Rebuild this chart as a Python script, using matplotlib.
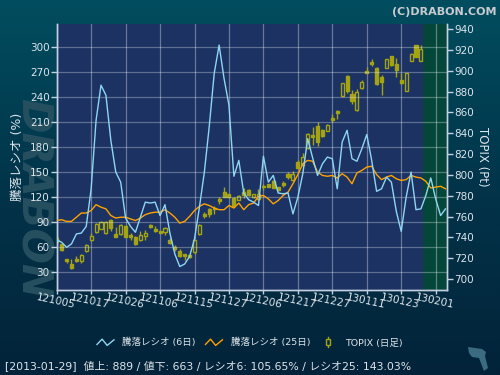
import numpy as np
import matplotlib
matplotlib.use("Agg")
import matplotlib.pyplot as plt
from matplotlib.lines import Line2D
from matplotlib.patches import Rectangle, Polygon
from matplotlib.legend_handler import HandlerBase
from matplotlib.colors import LinearSegmentedColormap

plt.rcParams["font.family"] = ["DejaVu Sans", "Noto Sans CJK JP"]

# ---------------------------------------------------------------------------
# data (one value per trading day, 2012-10-05 .. 2013-02-05)
# ---------------------------------------------------------------------------
tick_labels = ["121005", "121017", "121026", "121106", "121115", "121127",
               "121206", "121217", "121227", "130111", "130123", "130201"]

ratio6 = [69, 66, 60, 64, 76, 77, 85, 130, 212, 254,
          242, 188, 150, 138, 95, 85, 78, 96, 114, 113,
          114, 98, 111, 77, 52, 37, 40, 49, 70, 108,
          150, 205, 268, 302, 262, 230, 145, 164, 125, 117,
          114, 110, 169, 138, 146, 125, 124, 125, 100, 120,
          148, 190, 167, 146, 160, 168, 166, 130, 186, 200,
          166, 163, 178, 195, 164, 127, 130, 144, 138, 103,
          79, 120, 150, 105, 106, 122, 143, 118, 98, 106]

ratio25 = [92, 93, 91, 91, 96, 101, 101, 104, 111, 108,
           106, 98, 95, 96, 96, 94, 92, 95, 99, 101,
           102, 102, 105, 101, 96, 89, 91, 97, 104, 109,
           112, 110, 107, 105, 105, 110, 107, 113, 105, 111,
           113, 121, 122, 118, 112, 116, 122, 126, 136, 147,
           160, 164, 163, 150, 146, 145, 146, 143, 148, 144,
           136, 149, 152, 156, 157, 147, 141, 144, 146, 142,
           140, 141, 146, 144, 143, 139, 131, 132, 133, 130]

topix_open = [739, 733.5, 719, 714, 719, 717.5, 727, 737.5, 745.5, 748.5,
              744, 757, 743, 743, 751, 742, 740.5, 737.5, 741.5, 752,
              748.5, 746, 745.5, 737.5, 731, 727, 724, 723, 726, 743,
              762.5, 767, 768, 776.5, 784, 781.5, 778, 776, 784, 785.5,
              778.5, 776.5, 789.5, 791, 794, 788, 792.5, 800.5, 795, 812,
              809.5, 825.5, 838, 847, 843.5, 842.5, 854.5, 861, 876, 895,
              877.5, 862, 883, 900, 908.5, 903, 894, 903, 914, 906.5,
              891.5, 881, 909.5, 924.5, 909.5]
topix_close = [736, 727.5, 717, 711, 717.5, 723, 732.5, 741, 753, 755,
               755, 749.5, 740.5, 752, 740.5, 740, 733.5, 742, 744.5, 750,
               746.5, 744.5, 749.5, 735, 728.5, 722.5, 722.5, 721, 737.5, 752,
               760.5, 762, 767, 775, 779, 778.5, 770.5, 780, 780.5, 780.5,
               781.5, 781.5, 788, 788.5, 787.5, 785.5, 790, 797.5, 801, 807,
               817, 839, 836.5, 832, 837.5, 848, 853, 859, 888, 881,
               871, 880, 889, 898, 906.5, 887, 889.5, 911, 905, 900.5,
               888, 897.5, 916.5, 913.5, 920.5]
topix_high = [741, 734.5, 719.5, 719, 722, 724.5, 733.5, 744, 753.5, 756,
              756, 757.5, 750, 752.5, 751.5, 744, 741, 746.5, 747, 753,
              751, 746.5, 750, 739, 732.5, 728.5, 724.5, 724, 737.5, 752.5,
              764.5, 768, 770, 778.5, 788.5, 782, 778.5, 781, 787, 786,
              782, 786, 791, 791.5, 795, 788.5, 794, 803, 804, 814,
              821, 840, 846, 851, 844.5, 848.5, 858.5, 862, 888.5, 896,
              881.5, 882, 891, 904, 911, 903.5, 896, 911.5, 914.5, 912,
              898, 898, 917, 925, 924.5]
topix_low = [734, 726.5, 715, 710, 716.5, 715.5, 726, 737, 744, 748,
             743, 746, 740, 742.5, 740, 737.5, 733, 737, 737.5, 749.5,
             745.5, 744, 742, 734, 727, 721.5, 718, 720, 724.5, 742.5,
             759, 760, 762, 772.5, 778.5, 778, 770, 775.5, 777.5, 780,
             778, 776, 785.5, 788, 787, 785, 788.5, 796.5, 794.5, 806,
             808.5, 824.5, 828.5, 827.5, 836, 842, 851, 853.5, 875.5, 879,
             868.5, 861.5, 882, 897.5, 904.5, 886.5, 876.5, 902.5, 904.5, 893.5,
             887, 880.5, 909, 913, 909.5]

info_text = "[2013-01-29]  値上: 889 / 値下: 663 / レシオ6: 105.65% / レシオ25: 143.03%"

# ---------------------------------------------------------------------------
# style
# ---------------------------------------------------------------------------
C_R6 = "#8fd6f2"
C_R25 = "#ffa200"
C_CANDLE = "#a3a314"
C_PLOT = "#1b3262"
C_FUTURE = "#04473a"
C_TEXT = "#dde4ea"
C_SPINE = "#c4d0e2"


class ZigzagHandler(HandlerBase):
    def create_artists(self, legend, orig, xd, yd, w, h, fs, trans):
        xs = np.array([0.0, 0.3, 0.6, 1.0]) * w - xd
        ys = np.array([0.15, 0.95, 0.0, 0.85]) * h - yd
        return [Line2D(xs, ys, color=orig.get_color(), lw=1.0, transform=trans)]


class CandleHandler(HandlerBase):
    def create_artists(self, legend, orig, xd, yd, w, h, fs, trans):
        cx = w / 2 - xd
        wick = Line2D([cx, cx], [-0.2 * h - yd, 1.2 * h - yd], color=C_CANDLE,
                      lw=1.0, transform=trans)
        body = Rectangle((cx - 0.12 * w, 0.1 * h - yd), 0.24 * w, 0.8 * h,
                         facecolor="#022a40", edgecolor=C_CANDLE, lw=1.0,
                         transform=trans)
        return [wick, body]


fig = plt.figure(figsize=(5.0, 3.75), dpi=100)

# gradient background, watermark and corner logo (all behind the chart)
bg = fig.add_axes([0, 0, 1, 1], zorder=-10)
cmap = LinearSegmentedColormap.from_list("bg", ["#022339", "#02344a", "#014d5f"])
bg.imshow(np.linspace(0, 1, 256).reshape(-1, 1), aspect="auto", cmap=cmap,
          origin="lower", extent=[0, 1, 0, 1])
bg.set_xlim(0, 1)
bg.set_ylim(0, 1)
bg.set_axis_off()
bg.text(0.066, 0.47, "DRABON", rotation=270, fontsize=30, fontweight="bold",
        fontstyle="italic", color="#264f60", ha="center", va="center")
logo_px = [(468, 347), (482, 349), (486, 352), (485, 356), (488, 368),
           (484, 371), (479, 358), (472, 357), (469, 353)]
bg.add_patch(Polygon([(px / 500, 1 - py / 375) for px, py in logo_px],
                     closed=True, facecolor="#3b6b80", edgecolor="none"))

# candle axes (TOPIX, right scale)
ax = fig.add_axes([0.1134, 0.228, 0.7806, 0.7093])
ax.set_facecolor(C_PLOT)
ax.set_axisbelow(True)
days = np.arange(len(topix_open))
o = np.array(topix_open)
c = np.array(topix_close)
up = c >= o
ax.vlines(days, topix_low, topix_high, color=C_CANDLE, lw=1.0, zorder=2)
body_h = np.maximum(np.abs(c - o), 0.8)
ax.bar(days[up], body_h[up], bottom=np.minimum(o, c)[up], width=0.62,
       facecolor=C_PLOT, edgecolor=C_CANDLE, lw=1.0, zorder=3)
ax.bar(days[~up], body_h[~up], bottom=np.minimum(o, c)[~up], width=0.62,
       facecolor=C_CANDLE, edgecolor=C_CANDLE, lw=1.0, zorder=3)

n_days = len(ratio6)
ax.axvspan(74.4, 79.3, color=C_FUTURE, zorder=0.2, lw=0)
ax.set_xlim(0, 79.3)
ax.set_ylim(690, 945.3)
ax.set_xticks(np.arange(0, n_days, 7))
ax.set_xticklabels(tick_labels, rotation=-12, ha="center",
                   rotation_mode="anchor")
ax.grid(axis="x", color="white", alpha=0.35, lw=0.9)

# ratio axes (left scale), lines on top
ax2 = ax.twinx()
x = np.arange(n_days)
ax2.plot(x, ratio25, color=C_R25, lw=1.0, zorder=4)
ax2.plot(x, ratio6, color=C_R6, lw=1.0, zorder=5)
ax2.set_ylim(9.5, 327.8)
ax2.set_yticks(np.arange(30, 301, 30))
ax2.grid(axis="y", color="white", alpha=0.3, lw=0.9, zorder=1)

# swap sides: ratio on the left, TOPIX on the right
ax2.yaxis.tick_left()
ax2.yaxis.set_label_position("left")
ax.yaxis.tick_right()
ax.yaxis.set_label_position("right")
ax.set_yticks(np.arange(700, 941, 20))

ax2.set_ylabel("騰落レシオ (%)", color=C_TEXT, fontsize=9, labelpad=4)
ax.set_ylabel("TOPIX (Pt)", color=C_TEXT, fontsize=8.5, rotation=270,
              labelpad=11)

ax.tick_params(axis="y", colors=C_SPINE, labelcolor=C_TEXT, labelsize=7.5,
               length=4, width=1, pad=1)
ax.tick_params(axis="x", colors=C_SPINE, labelcolor=C_TEXT, labelsize=7.5,
               length=3, width=1, pad=2)
ax2.tick_params(axis="y", colors=C_SPINE, labelcolor=C_TEXT, labelsize=7.5,
                length=4, width=1, pad=1)

for a in (ax, ax2):
    a.spines["top"].set_visible(False)
    for s in ("left", "right", "bottom"):
        a.spines[s].set_color(C_SPINE)
        a.spines[s].set_linewidth(1.0)

# legend
h6 = Line2D([], [], color=C_R6)
h25 = Line2D([], [], color=C_R25)
hc = Rectangle((0, 0), 1, 1)
leg = fig.legend([h6, h25, hc], ["騰落レシオ (6日)", "騰落レシオ (25日)", "TOPIX (日足)"],
                 handler_map={h6: ZigzagHandler(), h25: ZigzagHandler(),
                              hc: CandleHandler()},
                 loc="center", bbox_to_anchor=(0.5, 0.086), ncol=3,
                 frameon=False, fontsize=6.8, handlelength=1.8,
                 handletextpad=0.9, columnspacing=1.0)
for t in leg.get_texts():
    t.set_color(C_TEXT)

fig.text(0.01, 0.024, info_text, color=C_TEXT, fontsize=7.8, va="center",
         ha="left")
fig.text(0.993, 0.981, "(C)DRABON.COM", color="#c8ccd0", fontsize=8,
         fontweight="bold", ha="right", va="top")

fig.savefig("out.png", dpi=100, facecolor=fig.get_facecolor())
